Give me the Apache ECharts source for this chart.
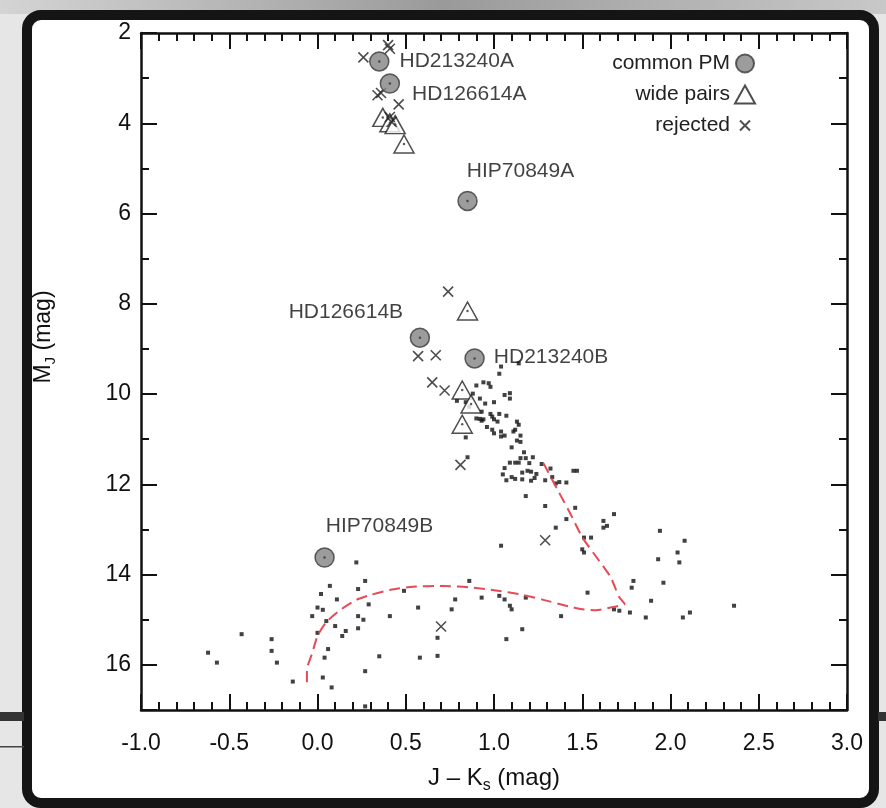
<!DOCTYPE html>
<html>
<head>
<meta charset="utf-8">
<script src="https://cdn.jsdelivr.net/npm/echarts@6/dist/echarts.min.js"></script>
<style>
html,body{margin:0;padding:0;background:#e6e6e6;}
#chart{width:886px;height:808px;}
</style>
</head>
<body>
<div id="chart"></div>
<script>
// ---- data ----
const xTickLabels = ['-1.0','-0.5','0.0','0.5','1.0','1.5','2.0','2.5','3.0'];
const yTickLabels = ['2','4','6','8','10','12','14','16'];

const pmNames = ['HD213240A','HD126614A','HIP70849A','HD126614B','HD213240B','HIP70849B'];
const pmX = [0.35, 0.41, 0.85, 0.58, 0.89, 0.04];
const pmY = [2.63, 3.12, 5.72, 8.75, 9.21, 13.62];

const wideX = [0.37, 0.41, 0.44, 0.49, 0.85, 0.82, 0.87, 0.82];
const wideY = [3.87, 3.99, 4.03, 4.46, 8.16, 9.91, 10.22, 10.67];

const rejX = [0.26, 0.40, 0.41, 0.34, 0.36, 0.46, 0.41, 0.42, 0.74, 0.57, 0.67, 0.65, 0.72, 0.81, 1.29, 0.70];
const rejY = [2.54, 2.27, 2.35, 3.38, 3.33, 3.58, 3.86, 3.97, 7.73, 9.16, 9.14, 9.74, 9.92, 11.57, 13.24, 15.15];

const fieldX = [1.04,1.14,1.03,0.94,0.97,0.98,0.90,0.88,1.06,1.09,1.09,0.79,0.84,0.92,0.95,1.00,0.86,0.93,0.90,0.92,
  0.93,0.94,0.98,0.99,1.00,1.02,1.03,1.07,1.13,1.14,1.12,1.11,0.96,0.99,1.00,1.04,1.04,1.06,1.15,1.13,
  1.15,0.84,1.10,1.17,1.15,1.18,1.22,0.85,1.09,1.12,1.14,1.20,1.27,1.32,1.45,1.47,1.06,1.16,1.19,1.21,
  1.24,1.05,1.07,1.10,1.12,1.16,1.21,1.23,1.29,1.33,1.35,1.37,1.41,1.18,1.29,1.46,1.41,1.35,1.04,1.68,
  1.62,1.64,1.62,1.51,1.55,1.50,1.51,1.94,2.08,2.04,1.93,2.05,1.79,1.78,1.96,1.53,1.18,1.03,1.06,1.09,
  1.10,1.89,1.68,1.71,1.77,1.86,2.07,2.11,2.36,1.38,1.16,1.07,0.22,0.07,0.02,0.27,0.23,0.11,0.29,0.00,
  0.03,-0.03,0.05,0.23,0.26,0.10,0.23,0.16,0.14,0.00,0.06,0.04,0.41,0.35,0.27,-0.14,0.03,0.08,0.27,0.49,
  0.57,0.58,0.68,0.68,0.76,0.78,0.86,0.93,-0.43,-0.62,-0.57,-0.26,-0.26,-0.23];
const fieldY = [9.39,9.32,9.55,9.74,9.76,9.84,9.81,9.99,10.02,9.98,10.10,10.15,10.18,10.10,10.21,10.18,10.28,10.39,10.54,10.55,
  10.59,10.56,10.44,10.50,10.56,10.61,10.44,10.48,10.61,10.68,10.79,10.83,10.73,10.79,10.87,10.83,10.94,10.92,10.92,11.03,
  11.06,10.96,11.18,11.29,11.42,11.42,11.40,11.40,11.52,11.52,11.52,11.53,11.55,11.65,11.70,11.70,11.64,11.74,11.70,11.72,
  11.77,11.78,11.91,11.84,11.88,11.89,11.92,11.86,11.91,11.84,11.98,11.95,11.96,12.26,12.48,12.52,12.77,12.96,13.36,12.66,
  12.81,12.92,12.96,13.18,13.18,13.44,13.51,13.03,13.25,13.51,13.66,13.73,14.14,14.29,14.18,14.40,14.51,14.47,14.55,14.69,
  14.77,14.58,14.77,14.80,14.84,14.95,14.95,14.84,14.69,14.92,15.21,15.43,13.73,14.25,14.43,14.14,14.32,14.55,14.66,14.73,
  14.78,14.92,15.03,14.92,15.00,15.14,15.19,15.25,15.36,15.29,15.65,15.84,14.92,15.81,16.14,16.37,16.28,16.50,16.92,14.36,
  14.73,15.84,15.40,15.80,14.77,14.55,14.14,14.51,15.32,15.73,15.95,15.43,15.69,15.95];

const modelX = [1.28,1.36,1.43,1.50,1.58,1.66,1.71,1.74,1.66,1.58,1.50,1.43,1.28,1.15,1.01,0.86,0.71,0.54,0.41,0.30,0.22,0.13,0.05,0.00,-0.03,-0.06,-0.06];
const modelY = [11.53,12.12,12.63,13.17,13.61,14.05,14.50,14.65,14.73,14.79,14.77,14.71,14.56,14.44,14.35,14.28,14.25,14.27,14.34,14.45,14.56,14.78,15.05,15.36,15.74,16.11,16.51];

// ---- build ----
const zip = (a, b) => a.map((v, i) => [v, b[i]]);
const FONT = "'Liberation Sans', Arial, Helvetica, sans-serif";
const INK = '#111';

const pmLabelLayout = [
  {position:'right', distance:10, offset:[0,0]},
  {position:'right', distance:12, offset:[0,11]},
  {position:'top', distance:5, offset:[53,-4]},
  {position:'top', distance:5, offset:[-74,0]},
  {position:'right', distance:9, offset:[0,-1]},
  {position:'top', distance:5, offset:[55,-5]}
];
const pmData = pmX.map((x, i) => ({
  value: [x, pmY[i]], name: pmNames[i],
  label: Object.assign({show:true, formatter: pmNames[i]}, pmLabelLayout[i])
}));

const xSymbol = 'path://M0,0L0,0M4,4L14,14M14,4L4,14M18,18L18,18';

const majorTick = {show:true, inside:true, length:16, lineStyle:{color:INK, width:2}};
const minorTickX = {show:true, splitNumber:5, length:8, lineStyle:{color:INK, width:2}};
const axisLine = {show:true, onZero:false, lineStyle:{color:INK, width:2.5}};

function yAxis(pos, major) {
  return {
    type:'value', min:2, max:17, interval: major ? 2 : 1, inverse:true, position:pos,
    axisLine: major ? axisLine : {show:false, onZero:false},
    axisTick: major ? majorTick : {show:true, inside:true, length:8, lineStyle:{color:INK, width:2}},
    axisLabel: (major && pos === 'left') ? {
      show:true, margin:10, fontSize:23, color:INK, fontFamily:FONT,
      formatter: v => { if (v % 2 !== 0) return ''; const i = Math.round((v - 2) / 2); return yTickLabels[i] || ''; }
    } : {show:false},
    splitLine:{show:false}
  };
}
function xAxis(pos) {
  return {
    type:'value', min:-1, max:3, interval:0.5, position:pos,
    axisLine, axisTick: majorTick, minorTick: minorTickX,
    axisLabel: pos === 'bottom' ? {
      show:true, margin:22, fontSize:23, color:INK, fontFamily:FONT,
      formatter: v => xTickLabels[Math.round((v + 1) / 0.5)] || ''
    } : {show:false},
    splitLine:{show:false},
    name: pos === 'bottom' ? '{n|J – K}{s|s}{n| (mag)}' : '',
    nameLocation:'middle', nameGap:52,
    nameTextStyle:{rich:{
      n:{fontSize:24, color:INK, fontFamily:FONT},
      s:{fontSize:16, color:INK, fontFamily:FONT, padding:[16,0,0,0]}
    }}
  };
}

const chart = echarts.init(document.getElementById('chart'), null, {renderer:'canvas'});
chart.setOption({
  backgroundColor:'transparent',
  textStyle:{fontFamily:FONT},
  animation:false,
  graphic:[
    {type:'rect', z:-20, shape:{x:0,y:0,width:886,height:14}, style:{fill:new echarts.graphic.LinearGradient(0,0,1,0,[{offset:0,color:'#d4d4d4'},{offset:0.5,color:'#9a9a9a'},{offset:1,color:'#c8c8c8'}])}},
    {type:'rect', z:-10, shape:{x:27,y:15,width:847,height:788,r:14}, style:{fill:'#fff', stroke:'#151515', lineWidth:10}},
    {type:'rect', z:-5, shape:{x:0,y:712,width:24,height:9}, style:{fill:'#333'}},
    {type:'rect', z:-5, shape:{x:878,y:712,width:8,height:9}, style:{fill:'#333'}},
    {type:'rect', z:-5, shape:{x:0,y:746,width:24,height:1.5}, style:{fill:'#444'}},
    {type:'text', z:10, x:44, y:337, rotation:Math.PI/2,
      style:{text:'{n|M}{s|J}{n| (mag)}', align:'center', verticalAlign:'middle',
        rich:{n:{fontSize:23, fill:INK, fontFamily:FONT}, s:{fontSize:15, fill:INK, fontFamily:FONT, padding:[14,0,0,0]}}}}
  ],
  grid:{left:141, right:39, top:33, bottom:98, containLabel:false},
  xAxis:[xAxis('bottom'), xAxis('top')],
  yAxis:[yAxis('left', true), yAxis('left', false), yAxis('right', true), yAxis('right', false)],
  legend:{
    show:true, orient:'vertical', align:'right', right:125, top:48,
    itemWidth:20, itemHeight:18, itemGap:10,
    textStyle:{fontSize:21, color:'#222', fontFamily:FONT},
    data:['common PM','wide pairs','rejected']
  },
  series:[
    {type:'scatter', name:'field', data:zip(fieldX, fieldY), symbol:'rect', symbolSize:4,
      itemStyle:{color:INK}, z:2, silent:true},
    {type:'line', name:'model', data:zip(modelX, modelY), showSymbol:false, smooth:0.2,
      lineStyle:{color:'#e64b55', width:2, type:[11,6]}, z:3, silent:true},
    {type:'scatter', name:'wide pairs', data:zip(wideX, wideY), symbol:'triangle', symbolSize:[20,18],
      itemStyle:{color:'#fff', borderColor:'#222', borderWidth:1.5}, z:4},
    {type:'scatter', name:'rejected', data:zip(rejX, rejY), symbol:xSymbol, symbolSize:18,
      itemStyle:{color:'#222', borderColor:'#222', borderWidth:1.6}, z:5},
    {type:'scatter', name:'common PM', data:pmData, symbol:'circle', symbolSize:19,
      itemStyle:{color:'#838383', borderColor:'#3a3a3a', borderWidth:1.5},
      label:{color:'#111', fontSize:21, fontFamily:FONT}, z:6},
    {type:'scatter', name:'centers', data:zip(pmX.concat(wideX), pmY.concat(wideY)), symbol:'circle', symbolSize:2.5,
      itemStyle:{color:'#333'}, z:7, silent:true}
  ]
});
</script>
</body>
</html>
